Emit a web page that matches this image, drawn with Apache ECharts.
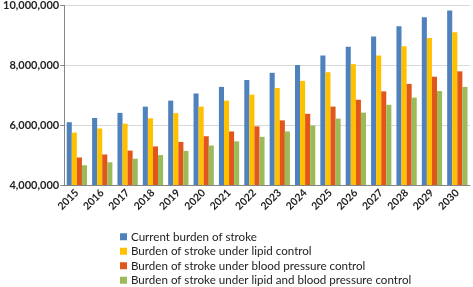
<!DOCTYPE html>
<html>
<head>
<meta charset="utf-8">
<script src="https://cdn.jsdelivr.net/npm/echarts@6/dist/echarts.min.js"></script>
<style>
html,body{margin:0;padding:0;background:#fff;}
#main{width:473px;height:287px;}
</style>
</head>
<body>
<div id="main"></div>
<script>
var years = ['2015','2016','2017','2018','2019','2020','2021','2022','2023','2024','2025','2026','2027','2028','2029','2030'];
var current = [6100000,6240000,6410000,6620000,6820000,7060000,7280000,7510000,7750000,8010000,8330000,8620000,8960000,9310000,9610000,9830000];
var lipid = [5750000,5890000,6050000,6230000,6400000,6620000,6820000,7020000,7240000,7480000,7770000,8040000,8330000,8640000,8910000,9110000];
var bp = [4920000,5020000,5150000,5290000,5440000,5630000,5790000,5960000,6160000,6380000,6620000,6850000,7130000,7380000,7620000,7800000];
var both = [4660000,4760000,4880000,5000000,5140000,5320000,5460000,5610000,5790000,5990000,6220000,6420000,6680000,6920000,7140000,7280000];
var names = ['Current burden of stroke','Burden of stroke under lipid control','Burden of stroke under blood pressure control','Burden of stroke under lipid and blood pressure control'];

var myChart = echarts.init(document.getElementById('main'));

function bar(name, data, color) {
    return {
        name: name,
        type: 'bar',
        data: data,
        barGap: '0%',
        barCategoryGap: '20%',
        itemStyle: { color: color }
    };
}

var option = {
    animation: false,
    textStyle: { fontFamily: 'Lato, Liberation Sans, sans-serif' },
    grid: { left: 61, right: 3, top: 4, bottom: 102 },
    legend: {
        orient: 'vertical',
        left: 120,
        top: 230,
        padding: 0,
        itemWidth: 7,
        itemHeight: 7,
        itemGap: 1,
        icon: 'rect',
        textStyle: { fontSize: 11.6, lineHeight: 13.5, color: '#222', padding: [0, 0, 0, -1] },
        data: names
    },
    xAxis: {
        type: 'category',
        data: years,
        axisLine: { lineStyle: { color: '#868686' } },
        axisTick: { lineStyle: { color: '#868686' }, length: 4 },
        axisLabel: { rotate: 45, fontSize: 10.5, fontWeight: 'bold', color: '#222', margin: 6 }
    },
    yAxis: {
        type: 'value',
        min: 4000000,
        max: 10000000,
        interval: 2000000,
        axisLine: { show: true, lineStyle: { color: '#868686' } },
        axisTick: { show: true, length: 4, lineStyle: { color: '#868686' } },
        splitLine: { lineStyle: { color: '#d9d9d9' } },
        axisLabel: {
            fontSize: 11, fontWeight: 'bold', color: '#222', margin: 5,
            formatter: function (v) { return v.toLocaleString('en-US'); }
        }
    },
    series: [
        bar(names[0], current, '#4f81bd'),
        bar(names[1], lipid, '#ffc000'),
        bar(names[2], bp, '#e0561b'),
        bar(names[3], both, '#9bbb59')
    ]
};

myChart.setOption(option);
</script>
</body>
</html>
